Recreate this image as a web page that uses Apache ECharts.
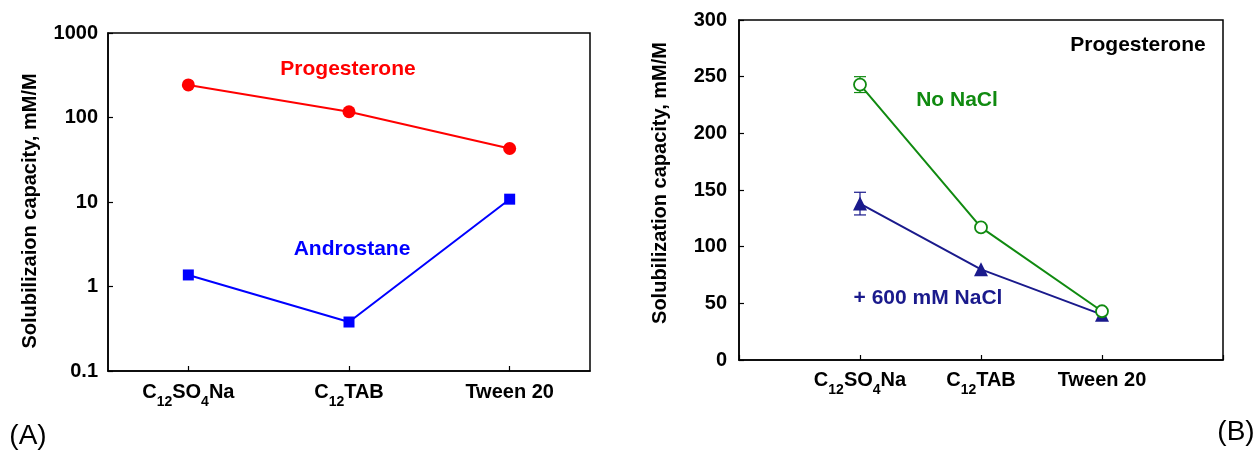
<!DOCTYPE html>
<html>
<head>
<meta charset="utf-8">
<script src="https://cdn.jsdelivr.net/npm/echarts@6/dist/echarts.min.js"></script>
<style>
html,body{margin:0;padding:0;background:#fff;}
#c{width:1260px;height:451px;}
</style>
</head>
<body>
<div id="c"></div>
<script>
// ---- data ----
const categories = ['C12SO4Na', 'C12TAB', 'Tween 20'];
const categoryLabels = ['{m|C}{sub|12}{m|SO}{sub|4}{m|Na}', '{m|C}{sub|12}{m|TAB}', '{m|Tween 20}'];
const progesterone = [243, 117, 43];
const androstane = [1.37, 0.38, 10.8];
const leftYTicks = [0.1, 1, 10, 100, 1000];
const noNaCl = [243, 117, 43];
const noNaClErr = [7, 0, 0];
const withNaCl = [138, 80, 40];
const withNaClErr = [10, 0, 0];
const rightYTicks = [0, 50, 100, 150, 200, 250, 300];

const FONT = 'Liberation Sans, Arial, sans-serif';
const chart = echarts.init(document.getElementById('c'), null, {renderer: 'canvas'});

const axisLine = {show: true, lineStyle: {color: '#000', width: 1.5}};
const tick = {show: true, inside: true, length: 5, lineStyle: {color: '#000', width: 1.2}};
const labelBase = {color: '#000', fontFamily: FONT, fontWeight: 'bold', fontSize: 20};
const xLabel = Object.assign({}, labelBase, {
  verticalAlign: 'top',
  rich: {
    m: {fontFamily: FONT, fontWeight: 'bold', fontSize: 20, color: '#000', lineHeight: 22, verticalAlign: 'top'},
    sub: {fontFamily: FONT, fontWeight: 'bold', fontSize: 14, color: '#000', lineHeight: 27, verticalAlign: 'bottom'}
  }
});

function errSeries(xi, yi, vals, errs, color) {
  const data = vals.map((v, i) => [i + 1, v, errs[i]]);
  return {
    type: 'custom', xAxisIndex: xi, yAxisIndex: yi, z: 1,
    data: data,
    renderItem: function (params, api) {
      const e = api.value(2);
      if (!e) return null;
      const x = api.value(0), y = api.value(1);
      const hi = api.coord([x, y + e]);
      const lo = api.coord([x, y - e]);
      const w = 6;
      const st = {stroke: color, lineWidth: 1.2};
      return {type: 'group', children: [
        {type: 'line', shape: {x1: hi[0], y1: hi[1], x2: lo[0], y2: lo[1]}, style: st},
        {type: 'line', shape: {x1: hi[0] - w, y1: hi[1], x2: hi[0] + w, y2: hi[1]}, style: st},
        {type: 'line', shape: {x1: lo[0] - w, y1: lo[1], x2: lo[0] + w, y2: lo[1]}, style: st}
      ]};
    }
  };
}

function txt(x, y, text, color, size, weight, rot) {
  return {type: 'text', x: x, y: y, rotation: rot || 0,
    style: {text: text, fill: color, font: (weight || 'bold') + ' ' + size + 'px ' + FONT, align: 'center', verticalAlign: 'middle'}};
}

const option = {
  animation: false,
  backgroundColor: '#fff',
  grid: [
    {left: 108, top: 33, width: 482, height: 338, show: true, borderColor: '#000', borderWidth: 1.5, backgroundColor: 'transparent'},
    {left: 739, top: 20, width: 484, height: 340, show: true, borderColor: '#000', borderWidth: 1.5, backgroundColor: 'transparent'}
  ],
  xAxis: [
    {gridIndex: 0, type: 'category', data: categories, boundaryGap: true,
     axisLine: axisLine, axisTick: Object.assign({alignWithLabel: true, interval: 0}, tick),
     axisLabel: Object.assign({margin: 11, interval: 0, hideOverlap: false, formatter: (v, i) => categoryLabels[i]}, xLabel),
     splitLine: {show: false}},
    {gridIndex: 1, type: 'value', min: 0, max: categories.length + 1, interval: 1,
     axisLine: axisLine, axisTick: tick,
     axisLabel: Object.assign({margin: 10, showMinLabel: true, showMaxLabel: true, hideOverlap: false,
       formatter: (v) => (v >= 1 && v <= categories.length) ? categoryLabels[v - 1] : ''}, xLabel),
     splitLine: {show: false}}
  ],
  yAxis: [
    {gridIndex: 0, type: 'log', logBase: 10, min: leftYTicks[0], max: leftYTicks[leftYTicks.length - 1],
     axisLine: axisLine, axisTick: tick,
     axisLabel: Object.assign({margin: 10, formatter: (v) => String(+v.toPrecision(3))}, labelBase),
     splitLine: {show: false}, minorTick: {show: false}},
    {gridIndex: 1, type: 'value', min: rightYTicks[0], max: rightYTicks[rightYTicks.length - 1], interval: 50,
     axisLine: axisLine, axisTick: tick,
     axisLabel: Object.assign({margin: 12}, labelBase),
     splitLine: {show: false}}
  ],
  series: [
    {type: 'line', xAxisIndex: 0, yAxisIndex: 0, data: progesterone, symbol: 'circle', symbolSize: 13,
     lineStyle: {color: '#ff0000', width: 2}, itemStyle: {color: '#ff0000'}, z: 3},
    {type: 'line', xAxisIndex: 0, yAxisIndex: 0, data: androstane, symbol: 'rect', symbolSize: 11,
     lineStyle: {color: '#0000ff', width: 2}, itemStyle: {color: '#0000ff'}, z: 3},
    errSeries(1, 1, withNaCl, withNaClErr, '#1a1a8c'),
    {type: 'line', xAxisIndex: 1, yAxisIndex: 1, data: withNaCl.map((v, i) => [i + 1, v]), symbol: 'triangle', symbolSize: 14,
     lineStyle: {color: '#1a1a8c', width: 2}, itemStyle: {color: '#1a1a8c'}, z: 3},
    errSeries(1, 1, noNaCl, noNaClErr, '#108a10'),
    {type: 'line', xAxisIndex: 1, yAxisIndex: 1, data: noNaCl.map((v, i) => [i + 1, v]), symbol: 'circle', symbolSize: 12,
     lineStyle: {color: '#108a10', width: 2}, itemStyle: {color: '#fff', borderColor: '#108a10', borderWidth: 1.8}, z: 4}
  ],
  graphic: [
    txt(30, 211, 'Solubilizaion capacity, mM/M', '#000', 20, 'bold', Math.PI / 2),
    txt(660, 183, 'Solubilization capacity, mM/M', '#000', 20, 'bold', Math.PI / 2),
    txt(348, 69, 'Progesterone', '#ff0000', 21),
    txt(352, 249, 'Androstane', '#0000ff', 21),
    txt(957, 100, 'No NaCl', '#108a10', 21),
    txt(928, 298, '+ 600 mM NaCl', '#1a1a8c', 21),
    txt(1138, 45, 'Progesterone', '#000', 21),
    txt(28, 436, '(A)', '#000', 28, 'normal'),
    txt(1236, 432, '(B)', '#000', 28, 'normal')
  ]
};
chart.setOption(option);
</script>
</body>
</html>
